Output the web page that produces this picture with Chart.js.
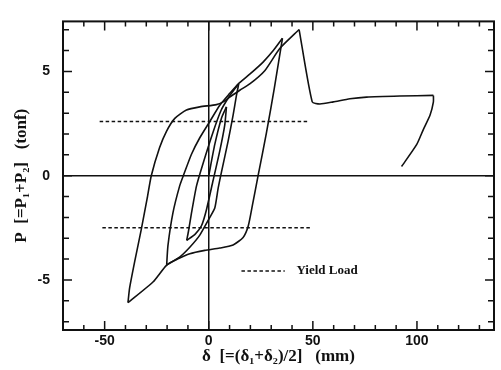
<!DOCTYPE html>
<html>
<head>
<meta charset="utf-8">
<script src="https://cdn.jsdelivr.net/npm/chart.js@4.4.0/dist/chart.umd.min.js"></script>
<style>
  html, body { margin: 0; padding: 0; background: #fff; }
  #wrap { width: 501px; height: 370px; }
</style>
</head>
<body>
<div id="wrap"><canvas id="my-chart" width="501" height="370"></canvas></div>
<script>
// tick labels
const xTicks = [-50, 0, 50, 100];
const yTicks = [-5, 0, 5];

// hysteresis path, one branch per reversal: [delta (mm), P (tonf)]
const firstLoad = [[0, 0], [2.9, 1.5], [6.1, 2.76], [8.5, 3.3]];
const unload1 = [[8.5, 3.3], [7.7, 2.44], [5.3, 1.19], [2.1, -0.22], [-1.1, -1.63], [-3.5, -2.4], [-6.5, -2.8], [-10.6, -3.1]];
const reload1 = [[-10.6, -3.1], [-9.8, -2.7], [-8.3, -1.8], [-5.9, -0.5], [-2.7, 0.6], [2.1, 2.1], [6, 3.15], [9.5, 3.75], [12, 4.1], [14.4, 4.4]];
const unload2 = [[14.4, 4.4], [13.3, 3.85], [11.7, 2.9], [9.3, 1.66], [6.1, 0.17], [4.5, -0.61], [2.9, -1.55], [0.5, -2.0], [-4.3, -2.85], [-9.1, -3.43], [-14, -3.9], [-20.2, -4.27]];
const reload2 = [[-20.2, -4.27], [-19.6, -3.35], [-17.2, -1.78], [-14, -0.5], [-12.2, 0], [-8.3, 1.03], [-4.3, 1.82], [0.5, 2.6], [5.3, 3.38], [10.1, 3.95], [14.1, 4.4], [19.7, 4.87], [26.1, 5.45], [31, 6.0], [35.4, 6.59]];
const unload3 = [[35.4, 6.59], [31.5, 4.2], [27.7, 2.05], [23.7, 0], [21, -1.4], [19, -2.4], [16.5, -2.96], [11.7, -3.32], [5.3, -3.47], [-1.9, -3.58], [-9.1, -3.74], [-15, -4.0], [-20.3, -4.3], [-26.8, -5.1], [-38.8, -6.09]];
const reload3 = [[-38.8, -6.09], [-38, -5.38], [-35.6, -4.13], [-32.4, -2.57], [-29.6, -1.1], [-27.6, 0], [-23.6, 1.35], [-20.3, 2.13], [-16.3, 2.75], [-10.7, 3.15], [-4.3, 3.3], [3.7, 3.41], [6.9, 3.54], [10.1, 3.77], [14.9, 4.1], [19.7, 4.4], [27, 5.05], [34.1, 6.1], [43.4, 7.01]];
const dropAndPush = [[43.4, 7.01], [49.7, 3.54], [53.4, 3.44], [59.8, 3.54], [67.8, 3.69], [75.8, 3.77], [91.8, 3.82], [107.9, 3.85]];
const finalUnload = [[107.9, 3.85], [107.9, 3.54], [106.3, 2.91], [103, 2.2], [99.9, 1.5], [92.6, 0.44]];

// yield load levels
const yieldUpper = [[-52.4, 2.6], [47.8, 2.6]];
const yieldLower = [[-51.1, -2.5], [48.9, -2.5]];
const legendLabel = "Yield Load";

const branches = [firstLoad, unload1, reload1, unload2, reload2, unload3, reload3, dropAndPush, finalUnload];

const ink = "#111";
const toPoints = (arr) => arr.map((p) => ({ x: p[0], y: p[1] }));

const datasets = branches.map((b) => ({
  data: toPoints(b),
  borderColor: ink,
  borderWidth: 1.6,
  pointRadius: 0,
  tension: 0.2,
  fill: false,
}));
[yieldUpper, yieldLower].forEach((line) => {
  datasets.push({
    data: toPoints(line),
    borderColor: ink,
    borderWidth: 1.5,
    borderDash: [3.5, 2.5],
    pointRadius: 0,
    tension: 0,
    fill: false,
  });
});

// frame, inward ticks and the little legend
const frameAndTicks = {
  id: "frameAndTicks",
  afterDatasetsDraw(chart) {
    const { ctx, chartArea: a } = chart;
    const x = chart.scales.x;
    const y = chart.scales.y;
    ctx.save();
    ctx.strokeStyle = ink;
    ctx.lineWidth = 1.5;
    ctx.setLineDash([]);
    ctx.beginPath();
    for (let v = Math.ceil(x.min / 10) * 10; v < x.max; v += 10) {
      const px = x.getPixelForValue(v);
      const len = v % 50 === 0 ? 9 : 5;
      ctx.moveTo(px, a.bottom);
      ctx.lineTo(px, a.bottom - len);
      ctx.moveTo(px, a.top);
      ctx.lineTo(px, a.top + len);
    }
    for (let v = Math.ceil(y.min); v < y.max; v++) {
      const py = y.getPixelForValue(v);
      const len = v % 5 === 0 ? 9 : 6;
      ctx.moveTo(a.left, py);
      ctx.lineTo(a.left + len, py);
      ctx.moveTo(a.right, py);
      ctx.lineTo(a.right - len, py);
    }
    ctx.stroke();

    ctx.lineWidth = 2;
    ctx.strokeRect(a.left, a.top, a.width, a.height);

    // legend sample
    const ly = y.getPixelForValue(-4.57);
    ctx.lineWidth = 1.5;
    ctx.setLineDash([3.5, 2.5]);
    ctx.beginPath();
    ctx.moveTo(x.getPixelForValue(15.7), ly);
    ctx.lineTo(x.getPixelForValue(36.5), ly);
    ctx.stroke();
    ctx.setLineDash([]);
    ctx.fillStyle = ink;
    ctx.font = "bold 13px 'Liberation Serif'";
    ctx.textBaseline = "middle";
    ctx.fillText(legendLabel, x.getPixelForValue(42.1), ly);
    ctx.restore();
  },
};

const zeroLine = (c) => (c.tick && c.tick.value === 0 ? ink : "rgba(0,0,0,0)");

const ctx = document.getElementById("my-chart").getContext("2d");
const chart = new Chart(ctx, {
  type: "line",
  data: { datasets: datasets },
  options: {
    responsive: false,
    animation: false,
    layout: { padding: { top: 15, right: 7, left: 0, bottom: 0 } },
    plugins: { legend: { display: false }, tooltip: { enabled: false } },
    scales: {
      x: {
        type: "linear",
        min: -70,
        max: 137,
        afterBuildTicks: (s) => { s.ticks = xTicks.map((v) => ({ value: v })); },
        afterFit: (s) => { s.height = 40; },
        border: { display: false },
        grid: { drawTicks: false, color: zeroLine, lineWidth: 1.5 },
        ticks: {
          color: ink,
          padding: 3,
          maxRotation: 0,
          font: { family: "'Liberation Sans'", size: 14, weight: "bold" },
        },
        title: {
          display: true,
          text: "δ  [=(δ₁+δ₂)/2]   (mm)",
          color: ink,
          font: { family: "'Liberation Serif'", size: 17, weight: "bold" },
          padding: { top: 0, bottom: 3 },
        },
      },
      y: {
        type: "linear",
        min: -7.4,
        max: 7.4,
        afterBuildTicks: (s) => { s.ticks = yTicks.map((v) => ({ value: v })); },
        afterFit: (s) => { s.width = 63; },
        border: { display: false },
        grid: { drawTicks: false, color: zeroLine, lineWidth: 1.5 },
        ticks: {
          color: ink,
          padding: 13,
          font: { family: "'Liberation Sans'", size: 14, weight: "bold" },
        },
        title: {
          display: true,
          text: "P  [=P₁+P₂]   (tonf)",
          color: ink,
          font: { family: "'Liberation Serif'", size: 17, weight: "bold" },
          padding: { top: 11, bottom: 0 },
        },
      },
    },
  },
  plugins: [frameAndTicks],
});
</script>
</body>
</html>
